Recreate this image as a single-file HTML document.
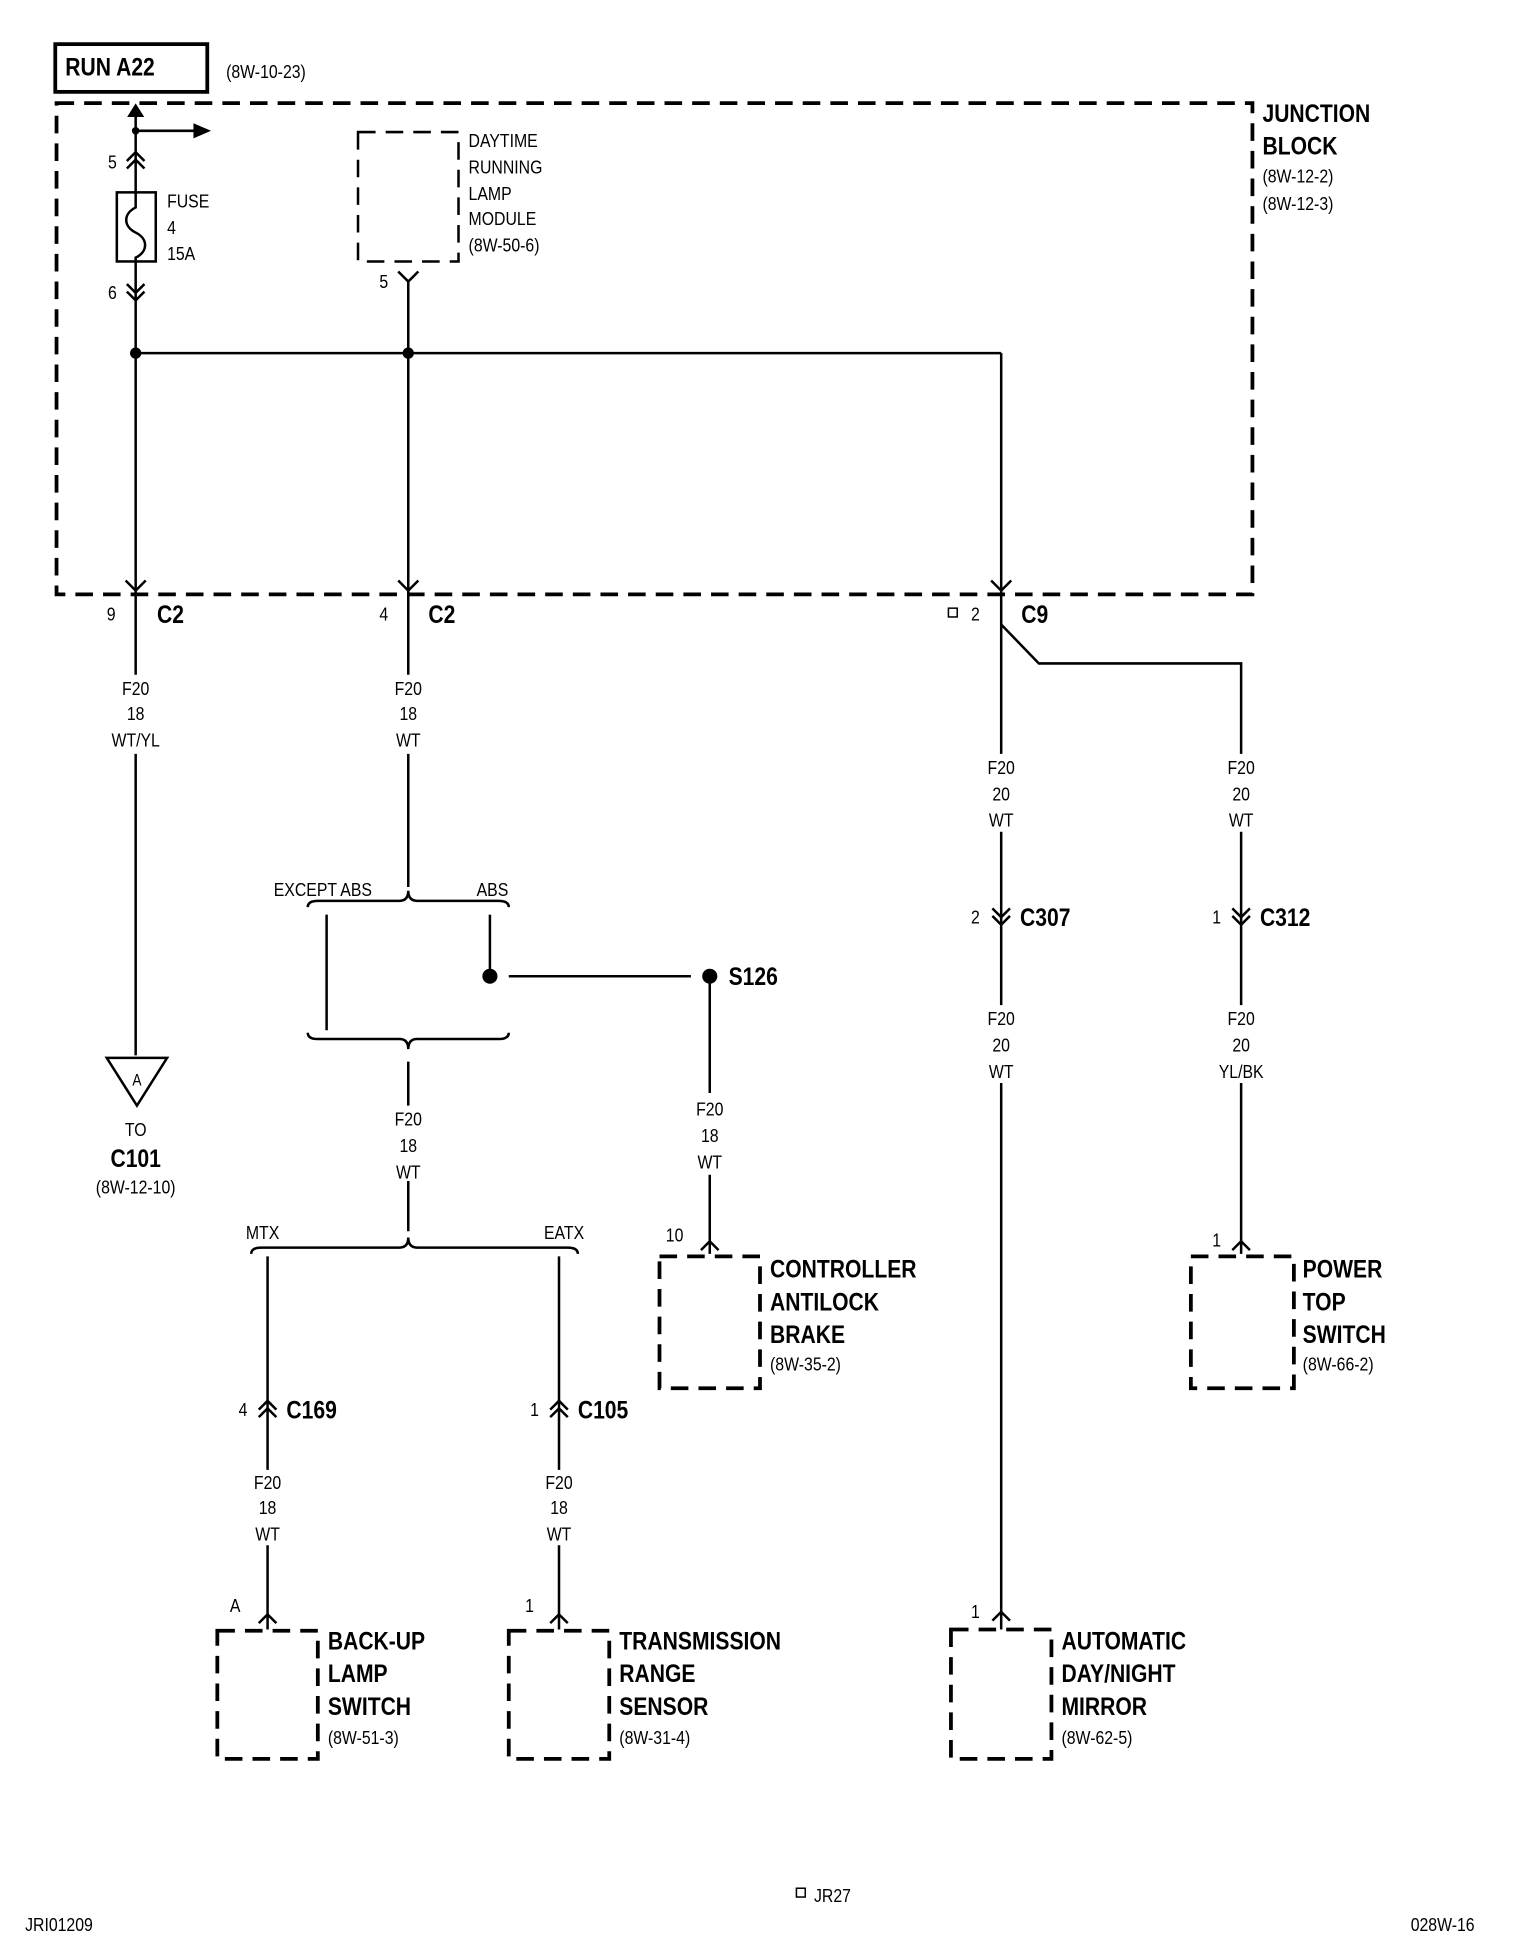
<!DOCTYPE html>
<html><head><meta charset="utf-8"><style>
html,body{margin:0;padding:0;background:#fff}
svg{display:block}
text{font-family:"Liberation Sans Narrow","Liberation Sans",sans-serif;fill:#000;transform-box:fill-box;transform-origin:0 50%;transform:scaleX(.84)}
.s{font-size:15px}
.b{font-size:20px;font-weight:bold}
.c{text-anchor:middle;transform-origin:50% 50%}
</style></head><body>
<svg width="1520" height="1960" viewBox="0 0 1210 1560" xmlns="http://www.w3.org/2000/svg">
<g fill="none" stroke="#000" stroke-width="2">
<rect x="44" y="35" width="121" height="38" stroke-width="3"/>
<rect x="45" y="82" width="952" height="391" stroke-width="3" stroke-dasharray="14,8"/>
<line x1="108" y1="85" x2="108" y2="470"/>
<line x1="108" y1="104" x2="155" y2="104"/>
<path d="M108,84 l-5,8 h10 z" fill="#000"/>
<path d="M168,104 l-14,-6 v12 z" fill="#000" stroke="none"/>
<path d="M101,128 l7,-7 l7,7 M101,134 l7,-7 l7,7"/>
<rect x="93" y="153" width="31" height="55" fill="#fff"/>
<path d="M108,153 v12 c-10,5 -10,15 0,20 c10,5 10,15 0,20 v3"/>
<path d="M101,226 l7,7 l7,-7 M101,232 l7,7 l7,-7"/>
<line x1="108" y1="281" x2="797" y2="281"/>
<line x1="797" y1="281" x2="797" y2="470"/>
<rect x="285" y="105" width="80" height="103" stroke-dasharray="14,8"/>
<path d="M317,216 l8,8 l8,-8"/>
<line x1="325" y1="224" x2="325" y2="470"/>
<path d="M100,462 l8,8 l8,-8 M317,462 l8,8 l8,-8 M789,462 l8,8 l8,-8"/>
<line x1="108" y1="470" x2="108" y2="537"/>
<line x1="108" y1="600" x2="108" y2="840"/>
<line x1="325" y1="470" x2="325" y2="537"/>
<line x1="325" y1="600" x2="325" y2="706"/>
<line x1="797" y1="470" x2="797" y2="600"/>
<path d="M797,497 L827,528 H988 V600"/>
<path d="M85,842 H133 L109,880 Z"/>
<path d="M245,722 q0,-5 8,-5 H318 q7,0 7,-8 q0,8 7,8 H397 q8,0 8,5"/>
<line x1="260" y1="728" x2="260" y2="820"/>
<line x1="390" y1="728" x2="390" y2="777"/>
<path d="M245,822 q0,5 8,5 H318 q7,0 7,8 q0,-8 7,-8 H397 q8,0 8,-5"/>
<line x1="405" y1="777" x2="550" y2="777"/>
<line x1="325" y1="845" x2="325" y2="880"/>
<line x1="325" y1="940" x2="325" y2="980"/>
<path d="M200,998 q0,-5 8,-5 H318 q7,0 7,-8 q0,8 7,8 H452 q8,0 8,5"/>
<line x1="213" y1="1000" x2="213" y2="1170"/>
<line x1="445" y1="1000" x2="445" y2="1170"/>
<path d="M206,1122 l7,-7 l7,7 M206,1128 l7,-7 l7,7 M438,1122 l7,-7 l7,7 M438,1128 l7,-7 l7,7"/>
<line x1="213" y1="1230" x2="213" y2="1297"/>
<line x1="445" y1="1230" x2="445" y2="1297"/>
<path d="M206,1292 l7,-7 l7,7 M438,1292 l7,-7 l7,7"/>
<rect x="173" y="1298" width="80" height="102" stroke-width="3" stroke-dasharray="14,8"/>
<rect x="405" y="1298" width="80" height="102" stroke-width="3" stroke-dasharray="14,8"/>
<line x1="565" y1="777" x2="565" y2="870"/>
<line x1="565" y1="935" x2="565" y2="998"/>
<path d="M558,995 l7,-7 l7,7"/>
<rect x="525" y="1000" width="80" height="105" stroke-width="3" stroke-dasharray="14,8"/>
<line x1="797" y1="662" x2="797" y2="800"/>
<path d="M790,723 l7,7 l7,-7 M790,729 l7,7 l7,-7"/>
<line x1="797" y1="862" x2="797" y2="1297"/>
<path d="M790,1290 l7,-7 l7,7"/>
<rect x="757" y="1297" width="80" height="103" stroke-width="3" stroke-dasharray="14,8"/>
<line x1="988" y1="662" x2="988" y2="800"/>
<path d="M981,723 l7,7 l7,-7 M981,729 l7,7 l7,-7"/>
<line x1="988" y1="862" x2="988" y2="998"/>
<path d="M981,995 l7,-7 l7,7"/>
<rect x="948" y="1000" width="82" height="105" stroke-width="3" stroke-dasharray="14,8"/>
<rect x="755" y="484" width="7" height="7" stroke-width="1.2"/>
<rect x="634" y="1503" width="7" height="7" stroke-width="1.2"/>
</g>
<g fill="#000">
<circle cx="108" cy="104" r="3"/><circle cx="108" cy="281" r="4.5"/><circle cx="325" cy="281" r="4.5"/>
<circle cx="390" cy="777" r="6"/><circle cx="565" cy="777" r="6"/>
</g>
<text x="52" y="60" class="b">RUN A22</text>
<text x="180" y="62" class="s">(8W-10-23)</text>
<text x="1005" y="97" class="b">JUNCTION</text>
<text x="1005" y="123" class="b">BLOCK</text>
<text x="1005" y="145" class="s">(8W-12-2)</text>
<text x="1005" y="167" class="s">(8W-12-3)</text>
<text x="86" y="134" class="s">5</text>
<text x="86" y="238" class="s">6</text>
<text x="133" y="165" class="s">FUSE</text><text x="133" y="186" class="s">4</text><text x="133" y="207" class="s">15A</text>
<text x="373" y="117" class="s">DAYTIME</text><text x="373" y="138" class="s">RUNNING</text><text x="373" y="159" class="s">LAMP</text><text x="373" y="179" class="s">MODULE</text><text x="373" y="200" class="s">(8W-50-6)</text>
<text x="302" y="229" class="s">5</text>
<text x="85" y="494" class="s">9</text><text x="125" y="496" class="b">C2</text>
<text x="302" y="494" class="s">4</text><text x="341" y="496" class="b">C2</text>
<text x="773" y="494" class="s">2</text><text x="813" y="496" class="b">C9</text>
<g class="s c">
<text class="c" x="108" y="553">F20</text><text class="c" x="108" y="573">18</text><text class="c" x="108" y="594">WT/YL</text>
<text class="c" x="325" y="553">F20</text><text class="c" x="325" y="573">18</text><text class="c" x="325" y="594">WT</text>
<text class="c" x="797" y="616">F20</text><text class="c" x="797" y="637">20</text><text class="c" x="797" y="658">WT</text>
<text class="c" x="988" y="616">F20</text><text class="c" x="988" y="637">20</text><text class="c" x="988" y="658">WT</text>
<text class="c" x="797" y="816">F20</text><text class="c" x="797" y="837">20</text><text class="c" x="797" y="858">WT</text>
<text class="c" x="988" y="816">F20</text><text class="c" x="988" y="837">20</text><text class="c" x="988" y="858">YL/BK</text>
<text class="c" x="325" y="896">F20</text><text class="c" x="325" y="917">18</text><text class="c" x="325" y="938">WT</text>
<text class="c" x="565" y="888">F20</text><text class="c" x="565" y="909">18</text><text class="c" x="565" y="930">WT</text>
<text class="c" x="213" y="1185">F20</text><text class="c" x="213" y="1205">18</text><text class="c" x="213" y="1226">WT</text>
<text class="c" x="445" y="1185">F20</text><text class="c" x="445" y="1205">18</text><text class="c" x="445" y="1226">WT</text>
<text class="c" x="109" y="864" font-size="13">A</text>
<text class="c" x="108" y="904">TO</text>
<text class="c" x="108" y="950">(8W-12-10)</text>
</g>
<text x="108" y="929" class="b c">C101</text>
<text x="257" y="713" class="s c">EXCEPT ABS</text><text x="392" y="713" class="s c">ABS</text>
<text x="580" y="784" class="b">S126</text>
<text x="209" y="986" class="s c">MTX</text><text x="449" y="986" class="s c">EATX</text>
<text x="190" y="1127" class="s">4</text><text x="228" y="1129" class="b">C169</text>
<text x="422" y="1127" class="s">1</text><text x="460" y="1129" class="b">C105</text>
<text x="773" y="735" class="s">2</text><text x="812" y="737" class="b">C307</text>
<text x="965" y="735" class="s">1</text><text x="1003" y="737" class="b">C312</text>
<text x="530" y="988" class="s">10</text>
<text x="965" y="992" class="s">1</text>
<text x="183" y="1283" class="s">A</text>
<text x="418" y="1283" class="s">1</text>
<text x="773" y="1288" class="s">1</text>
<text x="613" y="1017" class="b">CONTROLLER</text><text x="613" y="1043" class="b">ANTILOCK</text><text x="613" y="1069" class="b">BRAKE</text><text x="613" y="1091" class="s">(8W-35-2)</text>
<text x="1037" y="1017" class="b">POWER</text><text x="1037" y="1043" class="b">TOP</text><text x="1037" y="1069" class="b">SWITCH</text><text x="1037" y="1091" class="s">(8W-66-2)</text>
<text x="261" y="1313" class="b">BACK-UP</text><text x="261" y="1339" class="b">LAMP</text><text x="261" y="1365" class="b">SWITCH</text><text x="261" y="1388" class="s">(8W-51-3)</text>
<text x="493" y="1313" class="b">TRANSMISSION</text><text x="493" y="1339" class="b">RANGE</text><text x="493" y="1365" class="b">SENSOR</text><text x="493" y="1388" class="s">(8W-31-4)</text>
<text x="845" y="1313" class="b">AUTOMATIC</text><text x="845" y="1339" class="b">DAY/NIGHT</text><text x="845" y="1365" class="b">MIRROR</text><text x="845" y="1388" class="s">(8W-62-5)</text>
<text x="648" y="1514" class="s">JR27</text>
<text x="20" y="1537" class="s">JRI01209</text>
<text x="1123" y="1537" class="s">028W-16</text>
</svg>
</body></html>
